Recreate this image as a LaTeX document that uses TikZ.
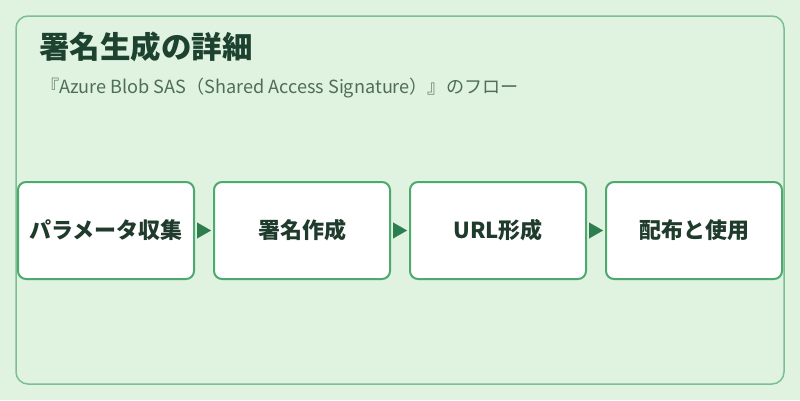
\documentclass[tikz,border=0pt]{standalone}
\usepackage{fontspec}
\setmainfont{Noto Sans CJK JP}
\usetikzlibrary{arrows.meta}
\definecolor{bg}{HTML}{E0F2E0}
\definecolor{frame}{HTML}{7DBF92}
\definecolor{boxline}{HTML}{4DAA6E}
\definecolor{arrowc}{HTML}{2E7D4E}
\definecolor{titlec}{HTML}{1E4230}
\definecolor{subc}{HTML}{4E6E5A}
\definecolor{textc}{HTML}{1F3B2B}
\tikzset{
  stepbox/.style={draw=boxline, line width=2pt, fill=white, rounded corners=8pt,
    minimum width=176pt, minimum height=97pt, inner sep=0pt,
    font=\fontsize{22}{26}\selectfont\bfseries, text=textc},
  flowarrow/.style={arrowc, line width=0.1pt, -{Triangle[length=14pt,width=16pt]},
    shorten <=4pt, shorten >=2pt}
}
\begin{document}
\begin{tikzpicture}[x=1pt,y=-1pt]
\useasboundingbox (0,0) rectangle (800,400);
\fill[bg] (0,0) rectangle (800,400);
\draw[frame, line width=1.5pt, rounded corners=12pt] (16,16) rectangle (784,384);
\node[anchor=west, text=titlec, font=\fontsize{30.5}{34}\selectfont\bfseries, inner sep=0pt] (title) at (39,47) {署名生成の詳細};
\node[anchor=west, text=subc, font=\fontsize{18.1}{21}\selectfont, inner sep=0pt] (sub) at (41,88) {『Azure Blob SAS（Shared Access Signature）』のフロー};
\node[stepbox] (b1) at (106,230.5) {パラメータ収集};
\node[stepbox] (b2) at (302,230.5) {署名作成};
\node[stepbox] (b3) at (498,230.5) {URL形成};
\node[stepbox] (b4) at (694,230.5) {配布と使用};
\foreach \a/\b in {b1/b2,b2/b3,b3/b4}{
  \draw[flowarrow] (\a.east) -- (\b.west);
}
\end{tikzpicture}
\end{document}
